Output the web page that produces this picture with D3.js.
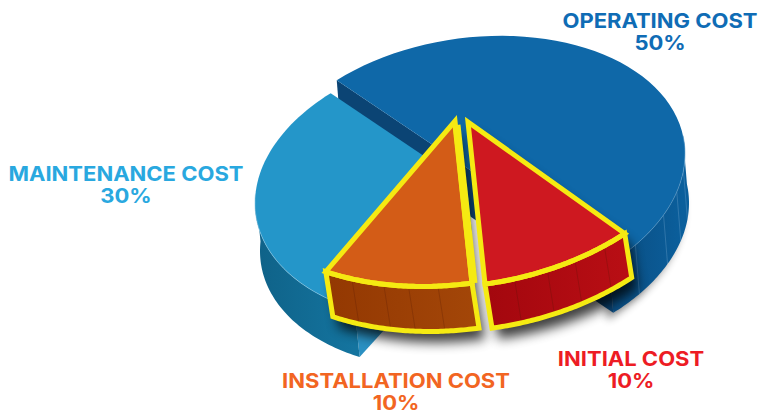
<!DOCTYPE html>
<html>
<head>
<meta charset="utf-8">
<script src="https://cdn.jsdelivr.net/npm/d3@7"></script>
<style>
  html, body { margin: 0; background: #fff; }
  svg { display: block; }
  text { font-family: Inter, "Open Sans", sans-serif; font-weight: 700; text-anchor: middle; }
</style>
</head>
<body>
<svg id="chart" width="761" height="415"></svg>
<script>
// Cost shares, in drawing order clockwise around the pie
const categories = ["OPERATING COST", "INITIAL COST", "INSTALLATION COST", "MAINTENANCE COST"];
const shares = [50, 10, 10, 30];
const topColors = ["#0f68a8", "#ce1820", "#d35c17", "#2496c9"];
const wallColors = [["#0b5f9c", "#0a4c80"], ["#b80e14", "#a3070e"], ["#a34608", "#933802"], ["#14749f", "#0f6288"]];
const cutColors = ["#0b4474", "#0b4474", "#0b4474", "#2a90c2"];
const textColors = ["#0f6cb5", "#ed1c24", "#f26522", "#29a8df"];

// Placement of each slice and its label
const hub = [{x: 473, y: 172}, {x: 468, y: 122}, {x: 455, y: 121}, {x: 467, y: 185}];
const spread = [{x: 1, y: 1}, {x: 1.15, y: 1.215}, {x: 1.15, y: 1.215}, {x: 1, y: 1}];
const wallShift = [{x: 4, y: 49}, {x: 7, y: 44}, {x: 7, y: 45}, {x: 5, y: 48}];
const wallSpan = [[82, 140], [140, 176], [176, 212], [212, 274]];
const wallSeams = [[97, 106, 116, 130], [146, 154, 161, 169], [184, 191, 197, 205], []];
const labelPos = [{x: 660, y: 28}, {x: 631, y: 366}, {x: 396, y: 388}, {x: 126, y: 181}];

const RX = 212, RY = 135, SHEAR = -0.085, DEG = Math.PI / 180;
const svg = d3.select("#chart");

const slices = d3.pie().sort(null).value(d => d)
  .startAngle(-40 * DEG).endAngle(320 * DEG)(shares);

// Pie angle (radians, 0 at top, clockwise) to a point on the tilted ellipse
function rim(i, angle) {
  const t = angle - Math.PI / 2;
  const dx = RX * Math.cos(t), dy = SHEAR * dx + RY * Math.sin(t);
  return [hub[i].x + dx * spread[i].x, hub[i].y + dy * spread[i].y];
}
const shifted = (i, p) => [p[0] + wallShift[i].x, p[1] + wallShift[i].y];
const arcPoints = (i, a0, a1) => d3.range(0, 61).map(k => rim(i, a0 + (a1 - a0) * k / 60));
const line = d3.line();
const closed = pts => line(pts) + "Z";

const topPath = i => closed([[hub[i].x, hub[i].y], ...arcPoints(i, slices[i].startAngle, slices[i].endAngle)]);
function wallPath(i) {
  const top = arcPoints(i, wallSpan[i][0] * DEG, wallSpan[i][1] * DEG);
  return closed([...top, ...top.slice().reverse().map(p => shifted(i, p))]);
}
function cutPath(i, angle) {
  const c = [hub[i].x, hub[i].y], r = rim(i, angle);
  return closed([c, r, shifted(i, r), shifted(i, c)]);
}

const defs = svg.append("defs");
const soft = defs.append("filter").attr("id", "soft")
  .attr("x", "-30%").attr("y", "-30%").attr("width", "160%").attr("height", "160%");
soft.append("feGaussianBlur").attr("stdDeviation", 6);
const softWide = defs.append("filter").attr("id", "softWide")
  .attr("x", "-30%").attr("y", "-30%").attr("width", "160%").attr("height", "160%");
softWide.append("feGaussianBlur").attr("stdDeviation", 4);

wallColors.forEach((c, i) => {
  const g = defs.append("linearGradient").attr("id", "wall" + i)
    .attr("gradientUnits", "userSpaceOnUse");
  const a = rim(i, wallSpan[i][0] * DEG), b = rim(i, wallSpan[i][1] * DEG);
  g.attr("x1", a[0]).attr("x2", b[0]).attr("y1", 0).attr("y2", 0);
  g.append("stop").attr("offset", 0).attr("stop-color", c[0]);
  g.append("stop").attr("offset", 1).attr("stop-color", c[1]);
});

// Seams drawn as thin strokes down a wall
function seams(g, i, color, opacity) {
  g.selectAll(null).data(wallSeams[i]).join("path")
    .attr("d", a => { const p = rim(i, a * DEG); return line([p, shifted(i, p)]); })
    .attr("stroke", color).attr("stroke-opacity", opacity).attr("stroke-width", 0.7).attr("fill", "none");
}

// Soft shadow on the page below the far right wall
svg.append("path").attr("d", wallPath(0)).attr("fill", "#000").attr("opacity", 0.45)
  .attr("filter", "url(#softWide)").attr("transform", "translate(-6,7)");

// Operating cost: cut faces, wall, top
const blue = svg.append("g");
blue.append("path").attr("d", cutPath(0, slices[0].startAngle)).attr("fill", cutColors[0]);
blue.append("path").attr("d", cutPath(0, slices[0].endAngle)).attr("fill", cutColors[0]);
blue.append("path").attr("d", wallPath(0)).attr("fill", "url(#wall0)");
seams(blue, 0, "#7fb0d4", 0.45);
blue.append("path").attr("d", topPath(0)).attr("fill", topColors[0]);
blue.append("path").attr("d", line(arcPoints(0, wallSpan[0][0] * DEG, wallSpan[0][1] * DEG)))
  .attr("fill", "none").attr("stroke", "#5f9fcc").attr("stroke-width", 0.6);

// Maintenance cost: cut face, wall, top
const sky = svg.append("g");
sky.append("path").attr("d", cutPath(3, slices[3].startAngle)).attr("fill", cutColors[3]);
sky.append("path").attr("d", wallPath(3)).attr("fill", "url(#wall3)");
sky.append("path").attr("d", topPath(3)).attr("fill", topColors[3]);
sky.append("path").attr("d", line(arcPoints(3, wallSpan[3][0] * DEG, wallSpan[3][1] * DEG)))
  .attr("fill", "none").attr("stroke", "#8cc7e4").attr("stroke-width", 0.6);

// Shadows thrown by the two raised slices
[1, 2].forEach(i => {
  const s = svg.append("g").attr("filter", "url(#soft)").attr("opacity", 0.75)
    .attr("transform", "translate(6,11)");
  s.append("path").attr("d", topPath(i)).attr("fill", "#000");
  s.append("path").attr("d", wallPath(i)).attr("fill", "#000");
});

// Raised slices with their yellow outline
[2, 1].forEach(i => {
  const g = svg.append("g");
  g.append("path").attr("d", wallPath(i)).attr("fill", "url(#wall" + i + ")");
  seams(g, i, "#4d1405", 0.35);
  g.append("path").attr("d", topPath(i)).attr("fill", topColors[i]);
  [wallPath(i), topPath(i)].forEach(d => g.append("path").attr("d", d)
    .attr("fill", "none").attr("stroke", "#f5ea12").attr("stroke-width", 5)
    .attr("stroke-linejoin", "miter").attr("stroke-miterlimit", 8));
});

// The inner edge of the installation slice carries a heavier outline
const edgeEnd = rim(2, slices[2].startAngle);
svg.append("path").attr("d", line([[hub[2].x + 1.5, hub[2].y + 4], [edgeEnd[0] + 1.5, edgeEnd[1]]]))
  .attr("stroke", "#f5ea12").attr("stroke-width", 8).attr("fill", "none");

// Labels: name with its share underneath, set slightly extended
const labels = svg.append("g").selectAll("g").data(categories).join("g")
  .attr("transform", (d, i) => `translate(${labelPos[i].x},${labelPos[i].y}) scale(1.1,1)`)
  .attr("fill", (d, i) => textColors[i]);
labels.append("text").attr("font-size", 20).text(d => d);
labels.append("text").attr("font-size", 20).attr("y", 22).text((d, i) => shares[i] + "%");
</script>
</body>
</html>
